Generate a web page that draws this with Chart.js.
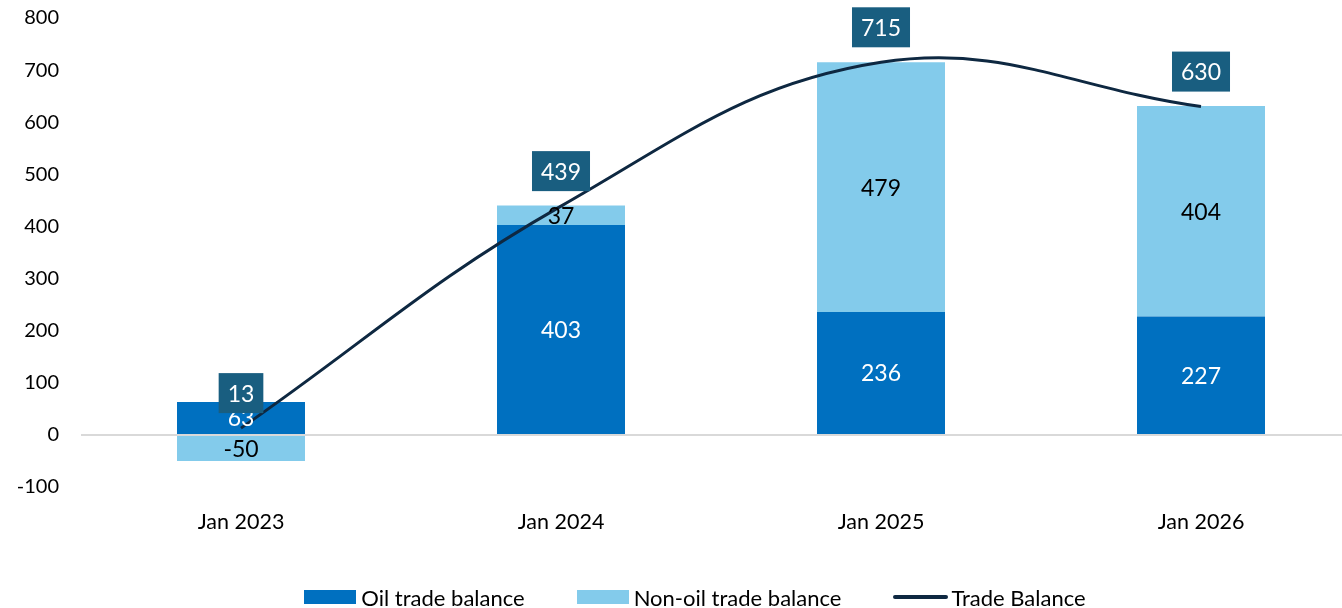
<!DOCTYPE html>
<html>
<head>
<meta charset="utf-8">
<script src="https://cdn.jsdelivr.net/npm/chart.js@4"></script>
<style>
  body { margin: 0; background: #fff; }
  #wrap { position: relative; width: 1342px; height: 608px; overflow: hidden; }
  #legend {
    position: absolute; left: 0; top: 583px; width: 1342px; height: 28px; box-sizing: border-box;
    padding-left: 48px;
    display: flex; justify-content: center; align-items: center;
    font-family: Lato, "Liberation Sans", sans-serif; font-size: 22px; color: #000;
  }
  .item { display: flex; align-items: center; margin: 0 26px; }
  .swatch { width: 52px; height: 14px; margin-right: 5px; }
  .swatch.line { width: 55px; height: 4px; border-radius: 2px; margin-right: 3px; }
</style>
</head>
<body>
<div id="wrap">
  <canvas id="tradeChart" width="1362" height="608"></canvas>
  <div id="legend"></div>
</div>
<script>
// Chart data
const categories = ["Jan 2023", "Jan 2024", "Jan 2025", "Jan 2026"];
const oilBalance = [63, 403, 236, 227];
const nonOilBalance = [-50, 37, 479, 404];
const tradeBalance = [13, 439, 715, 630];
const yTicks = [-100, 0, 100, 200, 300, 400, 500, 600, 700, 800];

const FONT = "Lato, 'Liberation Sans', sans-serif";
const OIL_COLOR = "#0070C0";
const NONOIL_COLOR = "#83CBEB";
const LINE_COLOR = "#0E2841";
const BOX_COLOR = "#195E80";

const ctx = document.getElementById("tradeChart");

// Draws the value labels on bars and boxed labels above the line
const valueLabels = {
  id: "valueLabels",
  afterDatasetsDraw(chart) {
    const c = chart.ctx;
    c.save();
    c.font = "23px " + FONT;
    c.textAlign = "center";
    c.textBaseline = "middle";

    // bar segment labels
    [0, 1].forEach((di) => {
      const meta = chart.getDatasetMeta(di);
      const colour = di === 0 ? "#fff" : "#000";
      meta.data.forEach((bar, i) => {
        const v = chart.data.datasets[di].data[i];
        const p = bar.getProps(["x", "y", "base"], true);
        c.fillStyle = colour;
        c.fillText(v, p.x, (p.y + p.base) / 2 + 1);
      });
    });

    // line labels in boxes
    const lineMeta = chart.getDatasetMeta(2);
    lineMeta.data.forEach((pt, i) => {
      const v = String(chart.data.datasets[2].data[i]);
      const w = c.measureText(v).width + 18;
      const h = 40;
      const cy = pt.y - 35;
      c.fillStyle = BOX_COLOR;
      c.fillRect(pt.x - w / 2, cy - h / 2, w, h);
      c.fillStyle = "#fff";
      c.fillText(v, pt.x, cy + 1);
    });
    c.restore();
  },
};

const tradeChart = new Chart(ctx, {
  data: {
    labels: categories,
    datasets: [
      {
        type: "bar",
        label: "Oil trade balance",
        data: oilBalance,
        backgroundColor: OIL_COLOR,
        stack: "s",
        order: 2,
        barPercentage: 0.4,
        categoryPercentage: 1,
      },
      {
        type: "bar",
        label: "Non-oil trade balance",
        data: nonOilBalance,
        backgroundColor: NONOIL_COLOR,
        stack: "s",
        order: 2,
        barPercentage: 0.4,
        categoryPercentage: 1,
      },
      {
        type: "line",
        label: "Trade Balance",
        data: tradeBalance,
        borderColor: LINE_COLOR,
        borderWidth: 3,
        tension: 0.4,
        pointRadius: 0,
        pointHoverRadius: 0,
        fill: false,
        order: 1,
      },
    ],
  },
  options: {
    responsive: false,
    animation: false,
    layout: { autoPadding: false, padding: { top: 18, right: 1, bottom: 61, left: 0 } },
    plugins: {
      legend: { display: false },
      tooltip: { enabled: false },
    },
    scales: {
      x: {
        stacked: true,
        grid: { display: false },
        border: { display: false },
        ticks: { color: "#000", font: { family: FONT, size: 21.5 }, padding: 14 },
        afterFit: (scale) => { scale.height = 60; },
      },
      y: {
        stacked: true,
        min: -100,
        max: 800,
        afterBuildTicks: (scale) => { scale.ticks = yTicks.map((v) => ({ value: v })); },
        grid: {
          drawTicks: false,
          color: (c) => (c.tick && c.tick.value === 0 ? "#D9D9D9" : "rgba(0,0,0,0)"),
          lineWidth: 2,
        },
        border: { display: false },
        ticks: { color: "#000", font: { family: FONT, size: 20 }, padding: 22 },
        afterFit: (scale) => {
          scale.width = 81;
          // tick padding would otherwise push the plot top down
          scale.paddingTop = 0;
          scale.paddingBottom = 0;
        },
      },
    },
  },
  plugins: [valueLabels],
});

// HTML legend built from the datasets
const legend = document.getElementById("legend");
tradeChart.data.datasets.forEach((ds) => {
  const item = document.createElement("div");
  item.className = "item";
  const sw = document.createElement("div");
  sw.className = ds.type === "line" ? "swatch line" : "swatch";
  sw.style.background = ds.type === "line" ? ds.borderColor : ds.backgroundColor;
  const txt = document.createElement("span");
  txt.textContent = ds.label;
  item.appendChild(sw);
  item.appendChild(txt);
  legend.appendChild(item);
});
</script>
</body>
</html>
